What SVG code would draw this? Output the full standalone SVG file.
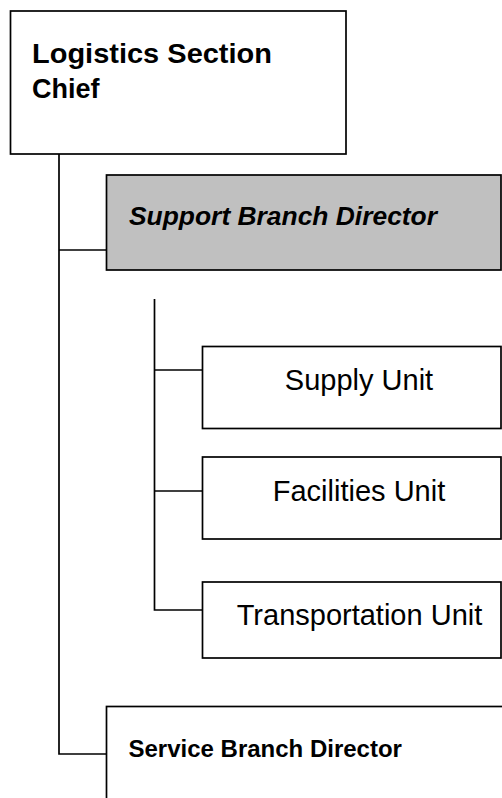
<svg xmlns="http://www.w3.org/2000/svg" width="502" height="798" viewBox="0 0 502 798">
  <style>
    .box { fill: #ffffff; stroke: #000000; stroke-width: 1.7; }
    .box.grey { fill: #c0c0c0; }
    .conn { fill: none; stroke: #000000; stroke-width: 1.7; }
    .head { font-family: "Liberation Sans", Arial, sans-serif; font-weight: bold; fill: #000000; }
    .unit { font-family: "Liberation Sans", Arial, sans-serif; font-size: 29px; fill: #000000; text-anchor: middle; }
  </style>

  <!-- connectors -->
  <g id="connectors">
    <polyline class="conn" points="59,154 59,754 106.5,754"/>
    <line class="conn" x1="59" y1="250" x2="106.5" y2="250"/>
    <polyline class="conn" points="154.5,299 154.5,610 202.5,610"/>
    <line class="conn" x1="154.5" y1="370" x2="202.5" y2="370"/>
    <line class="conn" x1="154.5" y1="491" x2="202.5" y2="491"/>
  </g>

  <g id="logistics-chief">
    <rect class="box" x="10.5" y="11" width="335.5" height="143"/>
    <text class="head" font-size="27" x="32" y="63" textLength="240" lengthAdjust="spacingAndGlyphs">Logistics Section</text>
    <text class="head" font-size="27" x="32" y="98">Chief</text>
  </g>

  <g id="support-branch">
    <rect class="box grey" x="106.5" y="175" width="394.5" height="95"/>
    <text class="head" font-size="25" font-style="italic" x="129" y="225" textLength="308" lengthAdjust="spacingAndGlyphs">Support Branch Director</text>
  </g>

  <g id="supply-unit">
    <rect class="box" x="202.5" y="346.5" width="298.5" height="82"/>
    <text class="unit" x="359" y="390">Supply Unit</text>
  </g>

  <g id="facilities-unit">
    <rect class="box" x="202.5" y="457" width="298.5" height="82"/>
    <text class="unit" x="359" y="500.5">Facilities Unit</text>
  </g>

  <g id="transportation-unit">
    <rect class="box" x="202.5" y="582" width="298.5" height="76"/>
    <text class="unit" x="359.5" y="625">Transportation Unit</text>
  </g>

  <g id="service-branch">
    <rect class="box" x="106.5" y="706.5" width="420" height="120"/>
    <text class="head" font-size="24" x="128.5" y="757">Service Branch Director</text>
  </g>
</svg>
